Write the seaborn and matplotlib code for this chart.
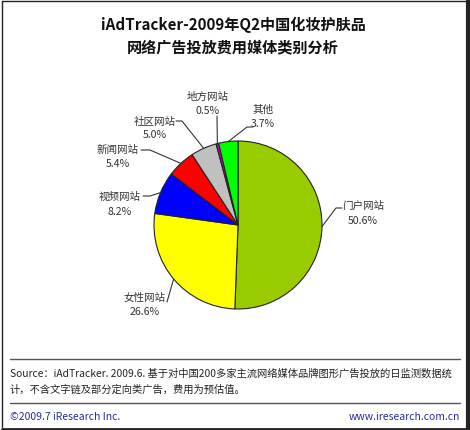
import matplotlib
matplotlib.use("Agg")
import matplotlib.pyplot as plt
from matplotlib.lines import Line2D
import seaborn as sns
import numpy as np

# ---- data ----
categories = ["门户网站", "女性网站", "视频网站", "新闻网站", "社区网站", "地方网站", "其他"]
shares = [50.6, 26.6, 8.2, 5.4, 5.0, 0.5, 3.7]
colors = ["#99CC00", "#FFFF00", "#0000FF", "#FF0000", "#C0C0C0", "#CC00CC", "#00FF00"]
title_lines = ["iAdTracker-2009年Q2中国化妆护肤品", "网络广告投放费用媒体类别分析"]
source_lines = ["Source：iAdTracker. 2009.6. 基于对中国200多家主流网络媒体品牌图形广告投放的日监测数据统",
                "计，不含文字链及部分定向类广告，费用为预估值。"]
footer_left = "©2009.7 iResearch Inc."
footer_right = "www.iresearch.com.cn"

sns.set_theme(style="white")
plt.rcParams['font.family'] = ['Noto Sans CJK SC', 'DejaVu Sans']

W, H = 470, 431
CX, CY, R = 238, 226, 84  # pie centre / radius in px

fig = plt.figure(figsize=(W / 100, H / 100), dpi=100)
fig.patch.set_facecolor("white")
ax = fig.add_axes([0, 0, 1, 1])

palette = sns.color_palette(colors)
wedges, _ = ax.pie(shares, colors=palette, startangle=90, counterclock=False,
                   wedgeprops=dict(edgecolor="#222222", linewidth=0.8), radius=1)
ax.set_xlim((0 - CX) / R, (W - CX) / R)
ax.set_ylim((CY - H) / R, (CY - 0) / R)
ax.set_aspect("auto")
ax.axis("off")

def d(px, py):
    return ((px - CX) / R, (CY - py) / R)

# label layout in px: (text centre x, line1 y, line2 y, leader path after wedge point)
layout = {
    "门户网站": (363, 206, 221, [(336, 209), (342, 209)]),
    "女性网站": (145, 298, 312, [(167, 303)]),
    "视频网站": (120, 197, 212, [(150, 197), (143, 197)]),
    "新闻网站": (118, 150, 164, [(150, 151), (141, 151)]),
    "社区网站": (155, 122, 135, [(182, 122), (176, 122)]),
    "地方网站": (208, 97, 111, [(217, 117)]),
    "其他": (263, 110, 124, [(247, 128), (253, 128)]),
}

for w, cat, val in zip(wedges, categories, shares):
    ang = np.deg2rad((w.theta1 + w.theta2) / 2)
    sx, sy = np.cos(ang), np.sin(ang)
    tx, y1, y2, path = layout[cat]
    pts = [(sx, sy)] + [d(*p) for p in path]
    ax.add_line(Line2D([p[0] for p in pts], [p[1] for p in pts], color="#333333", lw=0.8))
    ax.text(*d(tx, y1), cat, ha="center", va="center", fontsize=7.6, color="#333333")
    ax.text(*d(tx, y2), f"{val:.1f}%", ha="center", va="center", fontsize=7.6, color="#333333")

def f(px, py):
    return (px / W, 1 - py / H)

# title
fig.text(*f(233, 25), title_lines[0], ha="center", va="center", fontsize=10.9,
         fontweight="bold", color="#111111")
fig.text(*f(233, 47), title_lines[1], ha="center", va="center", fontsize=10.9,
         fontweight="bold", color="#111111")

# separators
for py in (360, 404):
    x0, y0 = f(10, py)
    x1, _ = f(460, py)
    fig.add_artist(Line2D([x0, x1], [y0, y0], color="#555555", lw=1.0))

fig.text(*f(10, 374), source_lines[0], ha="left", va="center", fontsize=7.4, color="#222222")
fig.text(*f(10, 390), source_lines[1], ha="left", va="center", fontsize=7.4, color="#222222")
fig.text(*f(10, 417), footer_left, ha="left", va="center", fontsize=7.5, color="#2a2aa0")
fig.text(*f(460, 417), footer_right, ha="right", va="center", fontsize=7.5, color="#2a2aa0")

# outer frame with shadow
def seg(p, q, lw, c="#222222"):
    a, b = f(*p), f(*q)
    fig.add_artist(Line2D([a[0], b[0]], [a[1], b[1]], color=c, lw=lw))

seg((1.5, 1.5), (467, 1.5), 1.0)
seg((1.5, 1.5), (1.5, 428), 1.0)
seg((468, 1.5), (468, 430), 3.0)
seg((1.5, 429.5), (469, 429.5), 2.0)

fig.savefig("out.png", dpi=100)
